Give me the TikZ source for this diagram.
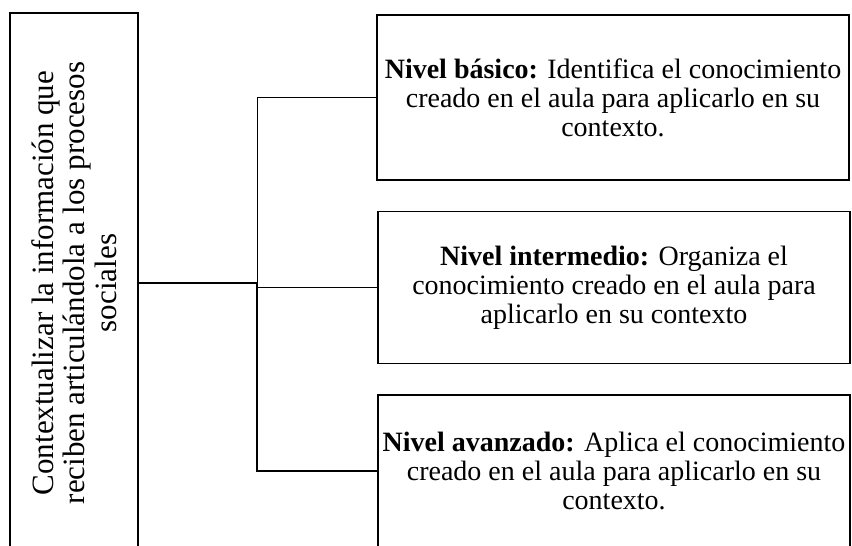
\documentclass[tikz,border=0pt]{standalone}
\usepackage{fontspec}
\setmainfont{Liberation Serif}
\usetikzlibrary{positioning}

\begin{document}
\begin{tikzpicture}[x=1pt, y=-1pt]
  % marco
  \useasboundingbox (0,0) rectangle (852,546);
  \clip (0,0) rectangle (852,546);
  \tikzset{caja/.style={draw, line width=1.6pt, align=center, inner sep=0pt,
      font=\fontsize{28}{29}\selectfont},
    nivel/.style={caja, minimum width=472pt, minimum height=152pt},
    fino/.style={line width=0.9pt},
    grueso/.style={line width=1.6pt}}

  % caja principal (texto girado)
  \node[caja, minimum width=540pt, minimum height=128pt, rotate=90,
    font=\fontsize{31}{31.5}\selectfont]
    (contexto) at (74,283) {Contextualizar la información que\\
      reciben articulándola a los procesos\\ sociales};

  % niveles
  \node[nivel, minimum height=165pt] (basico) at (613,97.5)
    {\textbf{Nivel básico:} Identifica el conocimiento\\
      creado en el aula para aplicarlo en su\\ contexto.};
  \node[nivel] (intermedio) at (614,287.5)
    {\textbf{Nivel intermedio:} Organiza el\\
      conocimiento creado en el aula para\\ aplicarlo en su contexto};
  \node[nivel] (avanzado) at (614,471)
    {\textbf{Nivel avanzado:} Aplica el conocimiento\\
      creado en el aula para aplicarlo en su\\ contexto.};

  % conectores
  \coordinate (nudo) at (257,283);
  \draw[grueso] (contexto.south |- nudo) -- (nudo);
  \draw[fino] (nudo) |- (basico.west);
  \draw[fino] (nudo) -- (nudo |- intermedio.west) -- (intermedio.west);
  \draw[grueso] (nudo) |- (avanzado.west);
\end{tikzpicture}
\end{document}
